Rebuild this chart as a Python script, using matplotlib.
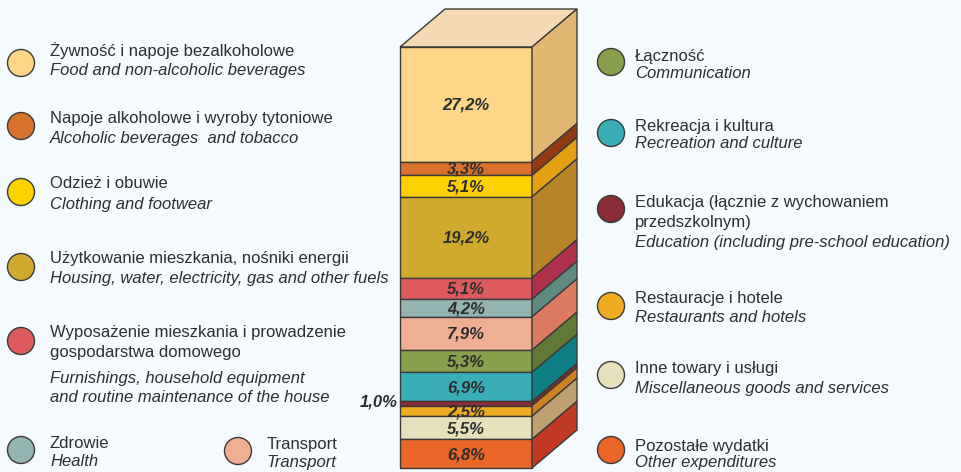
import matplotlib
matplotlib.use("Agg")
import matplotlib.pyplot as plt
from matplotlib.patches import Polygon, Circle

plt.rcParams["font.family"] = ["Liberation Sans", "DejaVu Sans"]

# -----------------------------
# Data
# -----------------------------
shares = [27.2, 3.3, 5.1, 19.2, 5.1, 4.2, 7.9, 5.3, 6.9, 1.0, 2.5, 5.5, 6.8]
share_labels = ["27,2%", "3,3%", "5,1%", "19,2%", "5,1%", "4,2%", "7,9%",
                "5,3%", "6,9%", "1,0%", "2,5%", "5,5%", "6,8%"]
front_colors = ["#FDD688", "#D8722C", "#FDD000", "#D0AA2C", "#DD5A5E", "#93B4B0",
                "#F0AF94", "#88A04C", "#3AAEB6", "#8A2C33", "#F0AC20", "#E6E0BD",
                "#E96528"]
side_colors = ["#E2B870", "#923A14", "#E2A012", "#BA8428", "#B0304C", "#5E8A80",
               "#DC7A62", "#607A36", "#0E7F84", "#7C2A2C", "#CF8020", "#BCA070",
               "#C33A24"]
top_color = "#F5D8B4"

names_pl = [["Żywność i napoje bezalkoholowe"],
            ["Napoje alkoholowe i wyroby tytoniowe"],
            ["Odzież i obuwie"],
            ["Użytkowanie mieszkania, nośniki energii"],
            ["Wyposażenie mieszkania i prowadzenie", "gospodarstwa domowego"],
            ["Zdrowie"],
            ["Transport"],
            ["Łączność"],
            ["Rekreacja i kultura"],
            ["Edukacja (łącznie z wychowaniem", "przedszkolnym)"],
            ["Restauracje i hotele"],
            ["Inne towary i usługi"],
            ["Pozostałe wydatki"]]
names_en = [["Food and non-alcoholic beverages"],
            ["Alcoholic beverages  and tobacco"],
            ["Clothing and footwear"],
            ["Housing, water, electricity, gas and other fuels"],
            ["Furnishings, household equipment", "and routine maintenance of the house"],
            ["Health"],
            ["Transport"],
            ["Communication"],
            ["Recreation and culture"],
            ["Education (including pre-school education)"],
            ["Restaurants and hotels"],
            ["Miscellaneous goods and services"],
            ["Other expenditures"]]

# -----------------------------
# Layout (pixels)
# -----------------------------
W, H = 962, 472
bar_x0, bar_x1 = 400, 532
bar_top, bar_bot = 47, 468
dx, dy = 45, 38
px_per_pct = (bar_bot - bar_top) / 100.0

edge = "#3a3a3a"
text_col = "#2e2e2e"
bg = "#F5FAFE"

fig = plt.figure(figsize=(W / 100, H / 100), dpi=100, facecolor=bg)
ax = fig.add_axes([0, 0, 1, 1])
ax.set_xlim(0, W)
ax.set_ylim(H, 0)
ax.axis("off")
ax.set_facecolor(bg)

# top face
ax.add_patch(Polygon([(bar_x0, bar_top), (bar_x0 + dx, bar_top - dy),
                      (bar_x1 + dx, bar_top - dy), (bar_x1, bar_top)],
                     closed=True, facecolor=top_color, edgecolor=edge, lw=1, zorder=2))

y = bar_top
for val, lab, fc, sc in zip(shares, share_labels, front_colors, side_colors):
    h = val * px_per_pct
    y0, y1 = y, y + h
    ax.add_patch(Polygon([(bar_x0, y0), (bar_x1, y0), (bar_x1, y1), (bar_x0, y1)],
                         closed=True, facecolor=fc, edgecolor=edge, lw=1, zorder=2))
    ax.add_patch(Polygon([(bar_x1, y0), (bar_x1 + dx, y0 - dy),
                          (bar_x1 + dx, y1 - dy), (bar_x1, y1)],
                         closed=True, facecolor=sc, edgecolor=edge, lw=1, zorder=2))
    if val >= 2:
        ax.text((bar_x0 + bar_x1) / 2, (y0 + y1) / 2 + 1, lab, ha="center", va="center",
                fontsize=12, fontweight="bold", fontstyle="italic", color=text_col, zorder=3)
    else:
        ax.text(bar_x0 - 2, (y0 + y1) / 2 - 2, lab, ha="right", va="center",
                fontsize=12, fontweight="bold", fontstyle="italic", color=text_col, zorder=3)
    y = y1

# -----------------------------
# Legend entries: circle (x, y), text x, polish line ys, english line ys
# -----------------------------
legend_pos = [
    (21, 63, 50, [51], [71]),
    (21, 126, 50, [118], [138]),
    (21, 192, 50, [184], [204]),
    (21, 267, 50, [258], [279]),
    (21, 341, 50, [333, 352], [378, 398]),
    (21, 450, 50, [443], [462]),
    (238, 451, 267, [444], [463]),
    (611, 62, 635, [56], [73]),
    (611, 133, 635, [126], [144]),
    (611, 209, 635, [203, 222], [243]),
    (611, 306, 635, [298], [318]),
    (611, 375, 635, [369], [388]),
    (611, 450, 635, [446], [463]),
]

fs = 12.0
for (cx, cy, tx, ys_pl, ys_en), fc, pl, en in zip(legend_pos, front_colors, names_pl, names_en):
    ax.add_patch(Circle((cx, cy), 13.5, facecolor=fc, edgecolor=edge, lw=1, zorder=2))
    for line, ty in zip(pl, ys_pl):
        ax.text(tx, ty, line, ha="left", va="center", fontsize=fs, color=text_col)
    for line, ty in zip(en, ys_en):
        ax.text(tx, ty, line, ha="left", va="center", fontsize=fs, color=text_col,
                fontstyle="italic")

fig.savefig("out.png", dpi=100, facecolor=bg)
